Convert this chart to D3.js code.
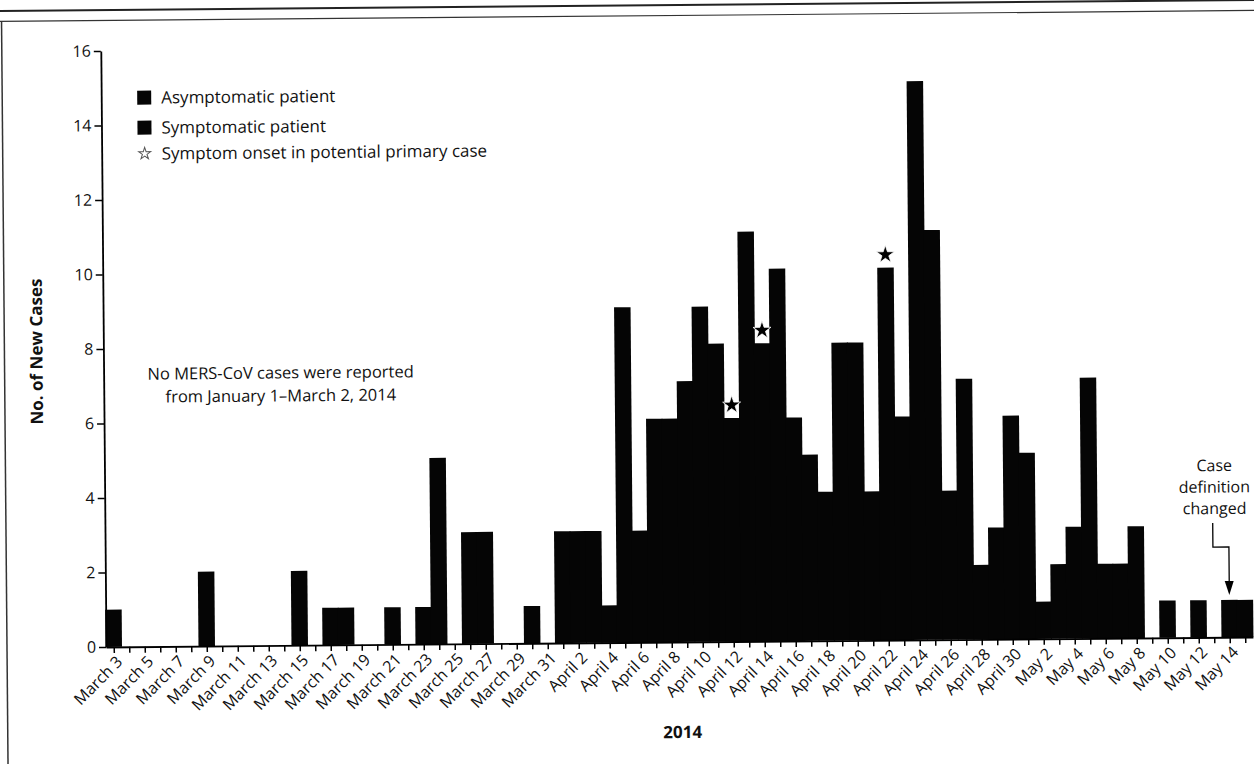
<!DOCTYPE html>
<html>
<head>
<meta charset="utf-8">
<script src="https://cdn.jsdelivr.net/npm/d3@7"></script>
<style>
body { margin: 0; background: #fff; }
text { font-family: "Open Sans", sans-serif; fill: #111; }
</style>
</head>
<body>
<script>
// New MERS-CoV cases per day, March 3 to May 15, 2014

var firstDay = new Date(Date.UTC(2014, 2, 3));
var marchCases = [1,0,0,0,0,0,2,0,0,0,0,0,2,0,1,1,0,0,1,0,1,5,0,3,3,0,0,1,0];
var aprilCases = [3,3,3,1,9,3,6,6,7,9,8,6,11,8,10,6,5,4,8,8,4,10,6,15,11,4,7,2,3,6];
var mayCases = [5,1,2,3,7,2,2,3,0,1,0,1,0,1,1];
var onsetDays = ["2014-04-12", "2014-04-14", "2014-04-22"];
var yTicks = [0, 2, 4, 6, 8, 10, 12, 14, 16];
var legendLabels = ["Asymptomatic patient", "Symptomatic patient", "Symptom onset in potential primary case"];
var noteLines = ["No MERS-CoV cases were reported", "from January 1\u2013March 2, 2014"];
var changeNote = ["Case", "definition", "changed"];
var changeDay = "2014-05-14";

var cases = marchCases.concat(aprilCases, mayCases);
var days = d3.utcDay.range(firstDay, d3.utcDay.offset(firstDay, cases.length));
var data = days.map(function(d, i) { return {day: d, n: cases[i], i: i}; });

var width = 1254, height = 764;
var dayW = 15.5;
var x0 = 106, yBase = 647, yTop = 51;
var ymd = d3.utcFormat("%Y-%m-%d");

var svg = d3.select("body").append("svg")
    .attr("width", width)
    .attr("height", height);

// the scan is a little tilted
var g = svg.append("g")
    .attr("transform", "rotate(-0.5," + x0 + "," + yBase + ")");

// frame lines
g.append("line").attr("x1", -20).attr("x2", width + 30).attr("y1", 10).attr("y2", 10)
    .attr("stroke", "#222").attr("stroke-width", 2);
g.append("line").attr("x1", -20).attr("x2", width + 30).attr("y1", 20.5).attr("y2", 20.5)
    .attr("stroke", "#333").attr("stroke-width", 1.2);
g.append("line").attr("x1", 7).attr("x2", 7).attr("y1", 20.5).attr("y2", height + 20)
    .attr("stroke", "#333").attr("stroke-width", 1.5);

var x = d3.scaleUtc()
    .domain([firstDay, d3.utcDay.offset(firstDay, cases.length)])
    .range([x0, x0 + cases.length * dayW]);
var y = d3.scaleLinear()
    .domain([0, 16])
    .range([yBase, yTop]);

function mid(d) { return d3.utcHour.offset(d, 12); }

// bars (overlap a bit so neighbours merge like in print)
g.selectAll(".bar")
    .data(data.filter(function(d) { return d.n > 0; }))
    .enter().append("rect")
    .attr("class", "bar")
    .attr("x", function(d) { return x(d.day) - 0.5; })
    .attr("width", function(d) { return x(d3.utcDay.offset(d.day, 1)) - x(d.day) + 1; })
    .attr("y", function(d) { return y(d.n); })
    .attr("height", function(d) { return y(0) - y(d.n); })
    .attr("fill", "#050505");

// stars for symptom onset
var star = d3.symbol().type(d3.symbolStar).size(100);
g.selectAll(".star")
    .data(onsetDays.map(function(s) { return data.find(function(d) { return ymd(d.day) == s; }); }))
    .enter().append("path")
    .attr("class", "star")
    .attr("d", star)
    .attr("fill", "#000")
    .attr("stroke", "#fff")
    .attr("stroke-width", 0.8)
    .attr("transform", function(d) { return "translate(" + x(mid(d.day)) + "," + (y(d.n) - 13) + ")"; });

// x axis
var fmt = d3.utcFormat("%B %-d");
var xAxis = g.append("g")
    .attr("class", "x axis")
    .attr("transform", "translate(0," + yBase + ")")
    .call(d3.axisBottom(x)
        .tickValues(days.map(mid))
        .tickSize(6)
        .tickSizeOuter(0)
        .tickFormat(function(d, i) { return i % 2 == 0 ? fmt(d3.utcDay.floor(d)) : ""; }));
xAxis.select(".domain").attr("stroke", "#000").attr("stroke-width", 1.8);
xAxis.selectAll(".tick line").attr("stroke", "#000").attr("stroke-width", 1.5);
xAxis.selectAll(".tick text")
    .style("font-family", "'Open Sans', sans-serif")
    .style("font-size", "16px")
    .attr("fill", "#111")
    .attr("text-anchor", "end")
    .attr("transform", "translate(5,12) rotate(-45)")
    .attr("x", 0).attr("y", 0).attr("dy", "0.35em");

// y axis
var yAxis = g.append("g")
    .attr("class", "y axis")
    .attr("transform", "translate(" + x0 + ",0)")
    .call(d3.axisLeft(y).tickValues(yTicks).tickSize(7).tickSizeOuter(0).tickPadding(3));
yAxis.select(".domain").attr("stroke", "#000").attr("stroke-width", 1.8);
yAxis.selectAll(".tick line").attr("stroke", "#000").attr("stroke-width", 1.5);
yAxis.selectAll(".tick text")
    .style("font-family", "'Open Sans', sans-serif")
    .style("font-size", "16px")
    .attr("fill", "#111");

// axis titles
g.append("text")
    .attr("transform", "translate(45,351) rotate(-90)")
    .attr("text-anchor", "middle")
    .style("font-size", "17px")
    .style("font-weight", "bold")
    .text("No. of New Cases");
g.append("text")
    .attr("x", 682).attr("y", 743)
    .attr("text-anchor", "middle")
    .style("font-size", "17px")
    .style("font-weight", "bold")
    .text("2014");

// note on the empty period
g.selectAll(".note")
    .data(noteLines)
    .enter().append("text")
    .attr("class", "note")
    .attr("x", 283)
    .attr("y", function(d, i) { return 380 + i * 23; })
    .attr("text-anchor", "middle")
    .style("font-size", "16.5px")
    .text(function(d) { return d; });

// legend
var legend = g.selectAll(".legend")
    .data(legendLabels)
    .enter().append("g")
    .attr("class", "legend")
    .attr("transform", function(d, i) { return "translate(142," + [98, 128, 154][i] + ")"; });
legend.filter(function(d, i) { return i < 2; })
    .append("rect")
    .attr("x", 0).attr("y", -7)
    .attr("width", 14).attr("height", 14)
    .attr("fill", "#050505");
legend.filter(function(d, i) { return i == 2; })
    .append("path")
    .attr("d", d3.symbol().type(d3.symbolStar).size(45))
    .attr("transform", "translate(7,0)")
    .attr("fill", "#fff")
    .attr("stroke", "#555")
    .attr("stroke-width", 1);
legend.append("text")
    .attr("x", 24)
    .attr("dy", "0.35em")
    .style("font-size", "17px")
    .text(function(d) { return d; });

// case definition changed
var cd = data.find(function(d) { return ymd(d.day) == changeDay; });
var ax = x(mid(cd.day)), ay = y(cd.n) - 5;
g.selectAll(".change")
    .data(changeNote)
    .enter().append("text")
    .attr("class", "change")
    .attr("x", ax - 14)
    .attr("y", function(d, i) { return ay - 124 + i * 21.5; })
    .attr("text-anchor", "middle")
    .style("font-size", "16px")
    .text(function(d) { return d; });
g.append("path")
    .attr("d", "M" + (ax - 16) + "," + (ay - 72) + "V" + (ay - 48) + "H" + ax + "V" + (ay - 12))
    .attr("fill", "none")
    .attr("stroke", "#000")
    .attr("stroke-width", 1.3);
g.append("path")
    .attr("d", "M" + (ax - 4.5) + "," + (ay - 14) + "L" + (ax + 4.5) + "," + (ay - 14) + "L" + ax + "," + ay + "Z")
    .attr("fill", "#000");
</script>
</body>
</html>
